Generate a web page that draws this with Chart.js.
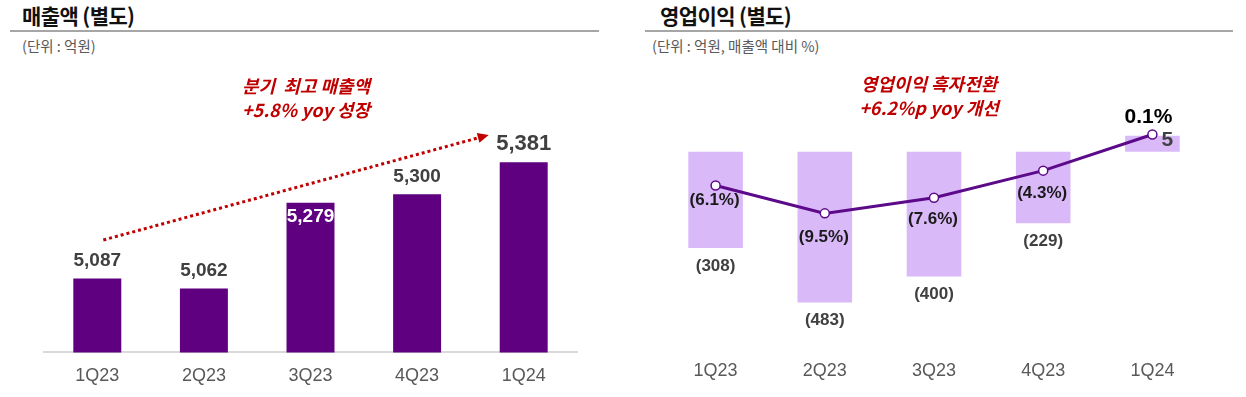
<!DOCTYPE html>
<html>
<head>
<meta charset="utf-8">
<script src="https://cdn.jsdelivr.net/npm/chart.js@4.4.1/dist/chart.umd.min.js"></script>
<style>
  body { margin:0; background:#fff; width:1246px; height:397px; position:relative; overflow:hidden;
         font-family:"Noto Sans CJK KR","Liberation Sans",sans-serif; }
  .title { position:absolute; top:0px; font-size:21px; font-weight:bold; color:#111; letter-spacing:-0.6px; }
  .rule { position:absolute; top:30px; height:2px; background:#a6a6a6; }
  .unit { position:absolute; top:35px; font-size:14.5px; color:#595959; }
  .note { position:absolute; text-align:center; color:#c00000; font-weight:bold; font-style:italic;
          font-size:18px; line-height:24px; }
  canvas { position:absolute; top:0; }
</style>
</head>
<body>
<div class="title" style="left:22px">매출액 (별도)</div>
<div class="rule" style="left:10px;width:589px"></div>
<div class="unit" style="left:22px">(단위 : 억원)</div>

<div class="title" style="left:660px">영업이익 (별도)</div>
<div class="rule" style="left:645px;width:588px"></div>
<div class="unit" style="left:652px">(단위 : 억원, 매출액 대비 %)</div>

<canvas id="sales" width="620" height="413" style="left:0"></canvas>
<canvas id="profit" width="626" height="419" style="left:620px"></canvas>

<div class="note" style="left:196px;width:220px;top:73px">분기&nbsp; 최고 매출액<br>+5.8% yoy 성장</div>
<div class="note" style="left:819px;width:220px;top:71px">영업이익 흑자전환<br>+6.2%p yoy 개선</div>

<script>
// 분기 라벨
var quarters = ['1Q23', '2Q23', '3Q23', '4Q23', '1Q24'];
// 매출액 (억원)
var sales = [5087, 5062, 5279, 5300, 5381];
// 영업이익 (억원)
var opProfit = [-308, -483, -400, -229, 5];
// 영업이익률 (%)
var opMargin = [-6.1, -9.5, -7.6, -4.3, 0.1];

var numFont = '"Liberation Sans", Arial, sans-serif';

function fmtNum(v) {
  var s = Math.abs(v).toLocaleString('en-US');
  return v < 0 ? '(' + s + ')' : s;
}
function fmtPct(v) {
  var s = Math.abs(v).toFixed(1) + '%';
  return v < 0 ? '(' + s + ')' : s;
}

// 막대 위 숫자
var salesLabels = {
  id: 'salesLabels',
  afterDatasetsDraw: function(chart) {
    var c = chart.ctx;
    var meta = chart.getDatasetMeta(0);
    c.save();
    c.textAlign = 'center';
    c.textBaseline = 'middle';
    meta.data.forEach(function(bar, i) {
      var last = i == sales.length - 1;
      var inside = i == 2;
      c.font = 'bold ' + (last ? 22 : 19) + 'px ' + numFont;
      c.fillStyle = inside ? '#ffffff' : '#404040';
      var y = inside ? bar.y + 14 : bar.y - 18;
      c.fillText(fmtNum(sales[i]), bar.x, y);
    });
    c.restore();
  }
};

// 빨간 점선 화살표
var trendArrow = {
  id: 'trendArrow',
  afterDraw: function(chart) {
    var c = chart.ctx;
    var m = chart.getDatasetMeta(0).data;
    var x1 = m[0].x + 6, y1 = 240;
    var x2 = m[4].x - 35, y2 = 135;
    var ang = Math.atan2(y2 - y1, x2 - x1);
    c.save();
    c.strokeStyle = '#c00000';
    c.fillStyle = '#c00000';
    c.lineWidth = 3;
    c.setLineDash([3, 3]);
    c.beginPath();
    c.moveTo(x1, y1);
    c.lineTo(x2 - 8 * Math.cos(ang), y2 - 8 * Math.sin(ang));
    c.stroke();
    c.setLineDash([]);
    c.beginPath();
    c.moveTo(x2, y2);
    c.lineTo(x2 - 11 * Math.cos(ang) + 5 * Math.sin(ang), y2 - 11 * Math.sin(ang) - 5 * Math.cos(ang));
    c.lineTo(x2 - 11 * Math.cos(ang) - 5 * Math.sin(ang), y2 - 11 * Math.sin(ang) + 5 * Math.cos(ang));
    c.closePath();
    c.fill();
    c.restore();
  }
};

new Chart(document.getElementById('sales'), {
  type: 'bar',
  data: {
    labels: quarters,
    datasets: [{
      data: sales,
      backgroundColor: '#5f0080',
      categoryPercentage: 1,
      barPercentage: 0.45
    }]
  },
  options: {
    responsive: false,
    animation: false,
    layout: { padding: { left: 44, right: 43, top: 60, bottom: 13 } },
    plugins: { legend: { display: false }, tooltip: { enabled: false } },
    scales: {
      x: {
        grid: { display: false, drawTicks: false },
        border: { display: true, color: '#d9d9d9', width: 2 },
        ticks: { color: '#595959', font: { family: numFont, size: 18 }, padding: 13 }
      },
      y: { display: false, min: 4900, max: 5640 }
    }
  },
  plugins: [salesLabels, trendArrow]
});

// 영업이익 라벨
var marginOffsets = [15, 24, 22, 23, -17];
var profitLabels = {
  id: 'profitLabels',
  afterDatasetsDraw: function(chart) {
    var c = chart.ctx;
    var bars = chart.getDatasetMeta(1).data;
    var pts = chart.getDatasetMeta(0).data;
    c.save();
    c.textAlign = 'center';
    c.textBaseline = 'middle';
    bars.forEach(function(bar, i) {
      c.fillStyle = '#404040';
      if (opProfit[i] < 0) {
        c.font = 'bold 17px ' + numFont;
        c.fillText(fmtNum(opProfit[i]), bar.x, bar.y + 18);
      } else {
        c.font = 'bold 21px ' + numFont;
        c.fillText(fmtNum(opProfit[i]), bar.x + 15, bar.y + 4);
      }
    });
    pts.forEach(function(p, i) {
      var pos = opMargin[i] >= 0;
      c.fillStyle = pos ? '#000000' : '#1a1a1a';
      c.font = 'bold ' + (pos ? 21 : 17) + 'px ' + numFont;
      c.fillText(fmtPct(opMargin[i]), p.x - (pos ? 4 : 1), p.y + marginOffsets[i]);
    });
    c.restore();
  }
};

new Chart(document.getElementById('profit'), {
  data: {
    labels: quarters,
    datasets: [{
      type: 'line',
      data: opMargin,
      yAxisID: 'y2',
      borderColor: '#5c0a8a',
      borderWidth: 3,
      pointRadius: 4.5,
      pointBorderWidth: 1.5,
      pointBackgroundColor: '#ffffff',
      pointBorderColor: '#5c0a8a',
      tension: 0,
      order: 0
    }, {
      type: 'bar',
      data: opProfit,
      yAxisID: 'y',
      backgroundColor: '#dab9f9',
      categoryPercentage: 1,
      barPercentage: 0.5,
      minBarLength: 16,
      order: 1
    }]
  },
  options: {
    responsive: false,
    animation: false,
    layout: { padding: { left: 41, right: 39, top: 100, bottom: 20 } },
    plugins: { legend: { display: false }, tooltip: { enabled: false } },
    scales: {
      x: {
        grid: { display: false, drawTicks: false },
        border: { display: false },
        ticks: { color: '#595959', font: { family: numFont, size: 18 }, padding: 17 }
      },
      y: {
        display: true,
        min: -614, max: 166,
        ticks: { display: false, stepSize: 1000 },
        border: { display: false },
        grid: {
          drawTicks: false,
          lineWidth: 2,
          color: function(ctx) { return ctx.tick && ctx.tick.value === 0 ? '#e3e3e3' : 'rgba(0,0,0,0)'; }
        }
      },
      y2: { display: false, min: -25.33, max: 4.3 }
    }
  },
  plugins: [profitLabels]
});
</script>
</body>
</html>
